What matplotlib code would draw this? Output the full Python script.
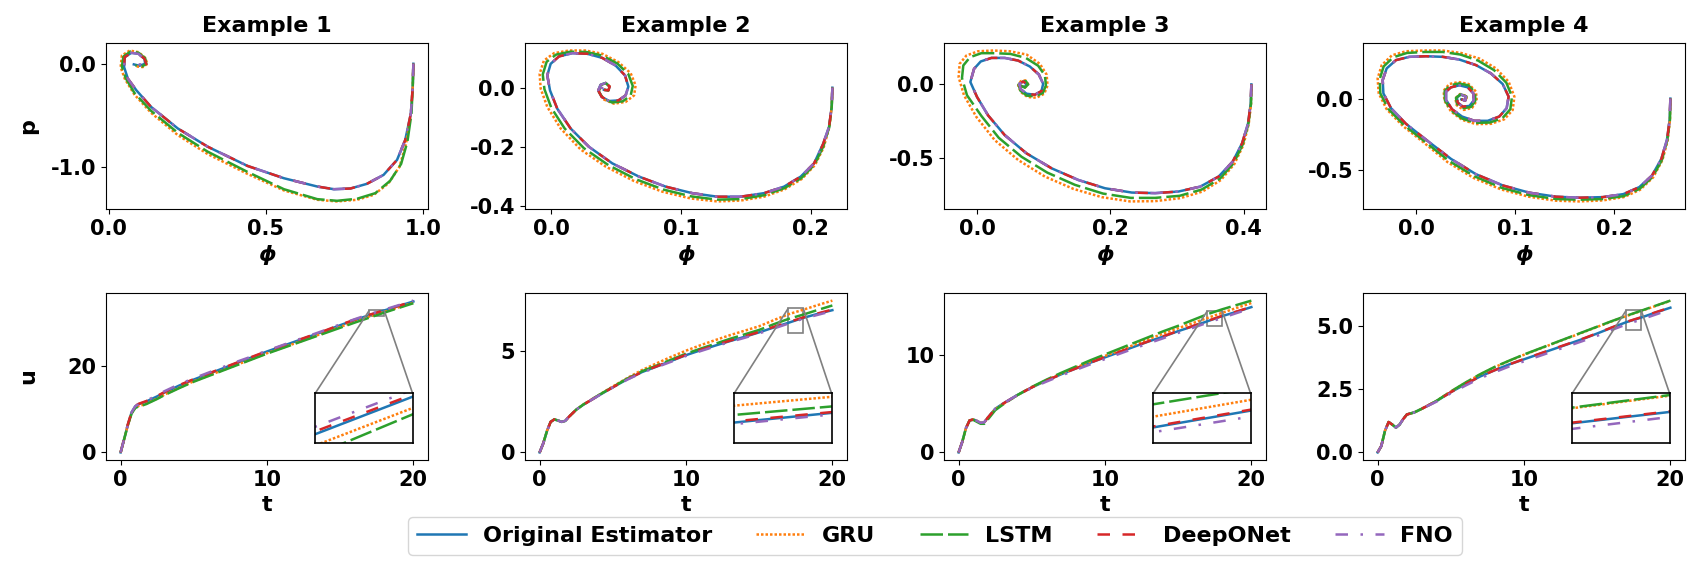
import matplotlib
matplotlib.use("Agg")
import matplotlib.pyplot as plt
from matplotlib.ticker import FormatStrFormatter
from mpl_toolkits.axes_grid1.inset_locator import mark_inset

plt.rcParams['font.family'] = ['DejaVu Sans']
plt.rcParams['font.weight'] = 'bold'
plt.rcParams['axes.labelweight'] = 'bold'
plt.rcParams['axes.titleweight'] = 'bold'
plt.rcParams['axes.unicode_minus'] = False

models = ['Original Estimator', 'GRU', 'LSTM', 'DeepONet', 'FNO']
colors = ['#1f77b4', '#ff7f0e', '#2ca02c', '#d62728', '#9467bd']
line_styles = ['-', (0, (1, 0.8)), (0, (9, 2)), (0, (5, 5)), (0, (5, 5, 1, 5))]

# ---------------- phase plane (phi, p) ----------------
# Example 1
ex1_phi_orig = [0.970, 0.968, 0.962, 0.944, 0.918, 0.875, 0.822, 0.770, 0.717, 0.664, 0.558, 0.442, 0.315, 0.220, 0.135, 0.088, 0.061, 0.049, 0.051, 0.072, 0.095, 0.114, 0.116, 0.098, 0.080]
ex1_p_orig = [0.000, -0.224, -0.481, -0.737, -0.929, -1.074, -1.160, -1.205, -1.212, -1.186, -1.106, -0.987, -0.801, -0.625, -0.417, -0.256, -0.144, -0.032, 0.064, 0.106, 0.096, 0.048, 0.000, -0.019, -0.006]
ex1_phi_gru = [0.970, 0.968, 0.962, 0.947, 0.926, 0.891, 0.844, 0.791, 0.727, 0.664, 0.558, 0.442, 0.315, 0.220, 0.135, 0.082, 0.051, 0.038, 0.042, 0.067, 0.095, 0.116, 0.123, 0.109, 0.088]
ex1_p_gru = [0.000, -0.224, -0.481, -0.769, -0.994, -1.154, -1.266, -1.314, -1.330, -1.314, -1.224, -1.064, -0.872, -0.689, -0.474, -0.298, -0.144, -0.032, 0.080, 0.128, 0.112, 0.058, 0.000, -0.032, -0.026]
ex1_phi_lstm = [0.970, 0.968, 0.964, 0.951, 0.931, 0.896, 0.849, 0.791, 0.727, 0.664, 0.558, 0.442, 0.315, 0.220, 0.135, 0.082, 0.054, 0.042, 0.047, 0.070, 0.095, 0.116, 0.120, 0.106, 0.085]
ex1_p_lstm = [0.000, -0.224, -0.481, -0.753, -0.968, -1.131, -1.250, -1.304, -1.324, -1.308, -1.212, -1.045, -0.849, -0.667, -0.455, -0.282, -0.138, -0.026, 0.071, 0.119, 0.106, 0.054, 0.000, -0.026, -0.016]
ex1_phi_don = ex1_phi_orig[:22] + [0.120, 0.116, 0.104]
ex1_p_don = ex1_p_orig[:22] + [-0.006, -0.048, -0.026]
ex1_phi_fno = ex1_phi_orig[:22] + [0.114, 0.080]
ex1_p_fno = ex1_p_orig[:22] + [-0.006, -0.006]

# Example 2
ex2_phi_orig = [0.2167, 0.2162, 0.2141, 0.2095, 0.2026, 0.1923, 0.1794, 0.1640, 0.1460, 0.1280, 0.1087, 0.0882, 0.0676, 0.0470, 0.0290, 0.0149, 0.0046, -0.0010, -0.0031, -0.0005, 0.0059, 0.0162, 0.0278, 0.0393, 0.0496, 0.0568, 0.0594, 0.0573, 0.0517, 0.0445, 0.0388, 0.0362, 0.0380, 0.0419, 0.0450, 0.0440, 0.0406]
ex2_p_orig = [0.000, -0.065, -0.133, -0.191, -0.256, -0.301, -0.335, -0.357, -0.369, -0.369, -0.357, -0.335, -0.301, -0.256, -0.200, -0.138, -0.071, -0.009, 0.042, 0.081, 0.106, 0.117, 0.115, 0.101, 0.075, 0.042, 0.004, -0.026, -0.043, -0.045, -0.031, -0.009, 0.010, 0.016, 0.004, -0.009, -0.007]
ex2_phi_gru = [0.2167, 0.2162, 0.2144, 0.2100, 0.2033, 0.1931, 0.1799, 0.1640, 0.1460, 0.1280, 0.1075, 0.0856, 0.0638, 0.0419, 0.0226, 0.0072, -0.0031, -0.0082, -0.0090, -0.0057, 0.0021, 0.0136, 0.0265, 0.0393, 0.0517, 0.0612, 0.0650, 0.0638, 0.0573, 0.0483, 0.0406, 0.0368, 0.0380, 0.0419, 0.0450, 0.0440, 0.0406]
ex2_p_gru = [0.000, -0.065, -0.133, -0.202, -0.262, -0.309, -0.344, -0.369, -0.382, -0.385, -0.375, -0.352, -0.316, -0.267, -0.209, -0.138, -0.065, -0.003, 0.047, 0.092, 0.117, 0.126, 0.126, 0.115, 0.087, 0.049, 0.008, -0.026, -0.048, -0.054, -0.040, -0.015, 0.008, 0.016, 0.004, -0.009, -0.007]
ex2_phi_lstm = [0.2167, 0.2162, 0.2143, 0.2098, 0.2030, 0.1928, 0.1797, 0.1640, 0.1460, 0.1280, 0.1080, 0.0866, 0.0653, 0.0440, 0.0252, 0.0103, 0.0000, -0.0053, -0.0066, -0.0036, 0.0036, 0.0146, 0.0270, 0.0393, 0.0509, 0.0594, 0.0628, 0.0612, 0.0551, 0.0468, 0.0399, 0.0366, 0.0380, 0.0419, 0.0450, 0.0440, 0.0406]
ex2_p_lstm = [0.000, -0.065, -0.133, -0.198, -0.260, -0.306, -0.340, -0.364, -0.377, -0.379, -0.368, -0.345, -0.310, -0.262, -0.205, -0.138, -0.068, -0.005, 0.045, 0.088, 0.112, 0.122, 0.121, 0.109, 0.082, 0.046, 0.006, -0.026, -0.046, -0.050, -0.036, -0.013, 0.009, 0.016, 0.004, -0.009, -0.007]
ex2_phi_don = list(ex2_phi_orig)
ex2_p_don = list(ex2_p_orig)
ex2_phi_fno = ex2_phi_orig[:35] + [0.0432, 0.0380, 0.0316]
ex2_p_fno = ex2_p_orig[:35] + [-0.004, 0.000, 0.000]

# Example 3
ex3_phi_orig = [0.4115, 0.4105, 0.4065, 0.3975, 0.3835, 0.3624, 0.3348, 0.3023, 0.2672, 0.2321, 0.1920, 0.1519, 0.1118, 0.0742, 0.0416, 0.0165, 0.0000, -0.0100, -0.0045, 0.0055, 0.0216, 0.0416, 0.0617, 0.0792, 0.0927, 0.0992, 0.0967, 0.0867, 0.0742, 0.0652, 0.0637, 0.0692, 0.0742, 0.0717, 0.0657]
ex3_p_orig = [0.000, -0.130, -0.265, -0.399, -0.522, -0.623, -0.691, -0.724, -0.735, -0.731, -0.702, -0.646, -0.567, -0.466, -0.343, -0.209, -0.085, 0.016, 0.105, 0.155, 0.179, 0.179, 0.161, 0.121, 0.067, 0.004, -0.045, -0.070, -0.063, -0.031, 0.004, 0.020, 0.004, -0.018, -0.009]
ex3_phi_gru = [0.4115, 0.4110, 0.4075, 0.3995, 0.3860, 0.3659, 0.3383, 0.3048, 0.2672, 0.2296, 0.1870, 0.1444, 0.1018, 0.0617, 0.0266, -0.0010, -0.0195, -0.0276, -0.0261, -0.0160, 0.0015, 0.0241, 0.0491, 0.0742, 0.0942, 0.1043, 0.1058, 0.1008, 0.0892, 0.0757, 0.0657, 0.0617, 0.0657, 0.0727, 0.0767, 0.0717, 0.0657]
ex3_p_gru = [0.000, -0.130, -0.269, -0.410, -0.538, -0.646, -0.724, -0.769, -0.789, -0.791, -0.762, -0.706, -0.623, -0.511, -0.377, -0.220, -0.074, 0.049, 0.139, 0.195, 0.224, 0.229, 0.224, 0.202, 0.139, 0.067, -0.007, -0.063, -0.090, -0.085, -0.052, -0.007, 0.022, 0.027, 0.000, -0.022, -0.009]
ex3_phi_lstm = [0.4115, 0.4110, 0.4070, 0.3985, 0.3850, 0.3644, 0.3368, 0.3038, 0.2672, 0.2306, 0.1890, 0.1469, 0.1053, 0.0667, 0.0326, 0.0065, -0.0150, -0.0226, -0.0206, -0.0105, 0.0065, 0.0276, 0.0501, 0.0732, 0.0917, 0.1018, 0.1033, 0.0987, 0.0877, 0.0747, 0.0652, 0.0622, 0.0667, 0.0732, 0.0767, 0.0717, 0.0657]
ex3_p_lstm = [0.000, -0.130, -0.267, -0.406, -0.532, -0.637, -0.711, -0.753, -0.767, -0.767, -0.738, -0.679, -0.596, -0.489, -0.361, -0.213, -0.074, 0.043, 0.128, 0.184, 0.211, 0.211, 0.206, 0.179, 0.126, 0.061, -0.007, -0.058, -0.081, -0.076, -0.043, -0.002, 0.022, 0.022, 0.000, -0.022, -0.009]
ex3_phi_don = list(ex3_phi_orig)
ex3_p_don = list(ex3_p_orig)
ex3_phi_fno = ex3_phi_orig[:33] + [0.0700, 0.0640, 0.0540]
ex3_p_fno = ex3_p_orig[:33] + [-0.006, 0.000, 0.000]

# Example 4
ex4_phi_orig = [0.2565, 0.2558, 0.2531, 0.2474, 0.2380, 0.2252, 0.2091, 0.1882, 0.1647, 0.1412, 0.1143, 0.0874, 0.0605, 0.0353, 0.0101, -0.0101, -0.0252, -0.0329, -0.0336, -0.0296, -0.0202, -0.0067, 0.0101, 0.0269, 0.0437, 0.0605, 0.0756, 0.0874, 0.0934, 0.0914, 0.0840, 0.0723, 0.0588, 0.0464, 0.0363, 0.0303, 0.0303, 0.0353, 0.0437, 0.0521, 0.0578, 0.0582, 0.0538, 0.0471, 0.0420, 0.0413, 0.0454, 0.0504, 0.0497, 0.0457]
ex4_p_orig = [0.000, -0.148, -0.287, -0.421, -0.537, -0.618, -0.667, -0.688, -0.692, -0.685, -0.657, -0.606, -0.528, -0.421, -0.287, -0.176, -0.067, 0.037, 0.130, 0.211, 0.269, 0.292, 0.296, 0.292, 0.273, 0.234, 0.176, 0.102, 0.014, -0.067, -0.125, -0.155, -0.155, -0.125, -0.074, -0.009, 0.049, 0.079, 0.093, 0.079, 0.037, -0.014, -0.051, -0.056, -0.028, 0.009, 0.028, 0.014, -0.014, -0.005]
ex4_phi_gru = [0.2565, 0.2561, 0.2538, 0.2484, 0.2390, 0.2259, 0.2094, 0.1882, 0.1647, 0.1412, 0.1136, 0.0857, 0.0578, 0.0319, 0.0084, -0.0134, -0.0296, -0.0376, -0.0387, -0.0346, -0.0242, -0.0101, 0.0084, 0.0269, 0.0454, 0.0639, 0.0807, 0.0934, 0.0992, 0.0975, 0.0891, 0.0756, 0.0605, 0.0464, 0.0353, 0.0286, 0.0279, 0.0336, 0.0430, 0.0531, 0.0605, 0.0612, 0.0565, 0.0481, 0.0410, 0.0397, 0.0444, 0.0511, 0.0504, 0.0457]
ex4_p_gru = [0.000, -0.148, -0.292, -0.431, -0.551, -0.637, -0.688, -0.711, -0.718, -0.713, -0.685, -0.634, -0.553, -0.444, -0.310, -0.190, -0.074, 0.037, 0.141, 0.234, 0.303, 0.331, 0.336, 0.336, 0.319, 0.280, 0.211, 0.118, 0.014, -0.079, -0.144, -0.176, -0.178, -0.148, -0.090, -0.014, 0.056, 0.102, 0.116, 0.102, 0.049, -0.014, -0.065, -0.079, -0.046, 0.002, 0.032, 0.019, -0.016, -0.005]
ex4_phi_lstm = [0.2565, 0.2561, 0.2534, 0.2481, 0.2387, 0.2255, 0.2094, 0.1882, 0.1647, 0.1412, 0.1139, 0.0864, 0.0588, 0.0333, 0.0091, -0.0121, -0.0279, -0.0360, -0.0366, -0.0326, -0.0229, -0.0091, 0.0091, 0.0269, 0.0447, 0.0625, 0.0787, 0.0911, 0.0968, 0.0951, 0.0871, 0.0743, 0.0598, 0.0464, 0.0356, 0.0292, 0.0289, 0.0343, 0.0434, 0.0528, 0.0595, 0.0598, 0.0555, 0.0477, 0.0413, 0.0403, 0.0447, 0.0508, 0.0501, 0.0457]
ex4_p_lstm = [0.000, -0.148, -0.289, -0.426, -0.546, -0.630, -0.681, -0.701, -0.706, -0.701, -0.674, -0.623, -0.542, -0.435, -0.301, -0.185, -0.072, 0.037, 0.137, 0.225, 0.289, 0.319, 0.326, 0.326, 0.308, 0.266, 0.199, 0.111, 0.014, -0.074, -0.137, -0.167, -0.169, -0.139, -0.083, -0.012, 0.053, 0.093, 0.106, 0.093, 0.044, -0.014, -0.058, -0.067, -0.037, 0.005, 0.030, 0.016, -0.014, -0.005]
ex4_phi_don = list(ex4_phi_orig)
ex4_p_don = list(ex4_p_orig)
ex4_phi_fno = list(ex4_phi_orig)
ex4_p_fno = list(ex4_p_orig)

# ---------------- control input u(t) ----------------
t_vals = [0, 0.25, 0.5, 0.75, 1.0, 1.25, 1.5, 1.75, 2.0, 2.5, 3, 4, 5, 6, 7, 8, 9, 10, 11, 12, 13, 14, 15, 16, 17, 18, 19, 20]

ex1_u_orig = [0, 3.2, 6.5, 9.3, 10.7, 11.2, 11.5, 11.8, 12.2, 13.0, 13.9, 15.5, 16.9, 18.2, 19.5, 20.8, 22.1, 23.4, 24.6, 25.8, 27.0, 28.2, 29.5, 30.7, 31.84, 32.9, 33.95, 35.0]
ex1_u_gru = [0, 3.2, 6.4, 9.1, 10.4, 10.8, 11.0, 11.3, 11.7, 12.5, 13.4, 15.0, 16.5, 17.8, 19.1, 20.4, 21.7, 23.0, 24.2, 25.4, 26.6, 27.9, 29.1, 30.3, 31.52, 32.58, 33.65, 34.7]
ex1_u_lstm = [0, 3.2, 6.4, 9.0, 10.3, 10.7, 10.9, 11.2, 11.6, 12.4, 13.3, 14.9, 16.4, 17.7, 19.0, 20.3, 21.6, 22.9, 24.1, 25.3, 26.5, 27.7, 28.9, 30.1, 31.25, 32.40, 33.5, 34.6]
ex1_u_don = [0, 3.3, 6.6, 9.4, 10.8, 11.3, 11.6, 11.9, 12.3, 13.1, 14.0, 15.6, 17.0, 18.3, 19.6, 20.9, 22.2, 23.5, 24.7, 25.9, 27.1, 28.3, 29.6, 30.8, 31.92, 32.96, 34.0, 35.05]
ex1_u_fno = [0, 3.2, 6.5, 9.3, 10.7, 11.2, 11.6, 11.9, 12.4, 13.3, 14.2, 15.8, 17.2, 18.5, 19.8, 21.1, 22.3, 23.6, 24.8, 26.0, 27.2, 28.4, 29.7, 30.9, 32.05, 33.1, 34.15, 35.2]

ex2_u_orig = [0, 0.45, 1.05, 1.5, 1.62, 1.57, 1.5, 1.55, 1.75, 2.1, 2.35, 2.78, 3.2, 3.6, 3.95, 4.22, 4.5, 4.78, 5.02, 5.25, 5.47, 5.68, 5.9, 6.14, 6.37, 6.61, 6.81, 6.99]
ex2_u_gru = [0, 0.45, 1.05, 1.5, 1.62, 1.57, 1.5, 1.55, 1.75, 2.1, 2.36, 2.8, 3.24, 3.66, 4.05, 4.38, 4.7, 5.0, 5.27, 5.52, 5.76, 5.98, 6.2, 6.5, 6.79, 7.01, 7.24, 7.46]
ex2_u_lstm = [0, 0.45, 1.05, 1.5, 1.62, 1.57, 1.5, 1.55, 1.75, 2.1, 2.36, 2.8, 3.22, 3.63, 3.99, 4.27, 4.56, 4.85, 5.1, 5.34, 5.58, 5.8, 6.02, 6.3, 6.56, 6.77, 7.0, 7.22]
ex2_u_don = [0, 0.45, 1.05, 1.5, 1.62, 1.57, 1.5, 1.55, 1.75, 2.1, 2.35, 2.78, 3.2, 3.6, 3.95, 4.23, 4.51, 4.8, 5.04, 5.27, 5.49, 5.7, 5.92, 6.17, 6.40, 6.63, 6.83, 7.02]
ex2_u_fno = [0, 0.45, 1.05, 1.5, 1.62, 1.57, 1.5, 1.55, 1.75, 2.1, 2.35, 2.78, 3.19, 3.58, 3.92, 4.19, 4.46, 4.74, 4.98, 5.21, 5.43, 5.63, 5.85, 6.09, 6.33, 6.57, 6.76, 6.95]

ex3_u_orig = [0, 1.1, 2.5, 3.3, 3.4, 3.25, 3.05, 3.1, 3.6, 4.5, 5.0, 5.9, 6.7, 7.4, 8.05, 8.65, 9.25, 9.8, 10.35, 10.9, 11.45, 11.95, 12.5, 13.0, 13.52, 14.05, 14.5, 14.98]
ex3_u_gru = [0, 1.1, 2.5, 3.3, 3.4, 3.25, 3.05, 3.1, 3.6, 4.45, 4.95, 5.88, 6.72, 7.45, 8.12, 8.75, 9.35, 9.95, 10.5, 11.1, 11.7, 12.25, 12.8, 13.33, 13.86, 14.39, 14.9, 15.4]
ex3_u_lstm = [0, 1.1, 2.5, 3.3, 3.35, 3.15, 2.95, 2.95, 3.4, 4.35, 4.9, 5.9, 6.75, 7.5, 8.2, 8.85, 9.5, 10.1, 10.7, 11.3, 11.9, 12.5, 13.05, 13.65, 14.25, 14.75, 15.2, 15.65]
ex3_u_don = [0, 1.1, 2.5, 3.3, 3.4, 3.25, 3.05, 3.1, 3.6, 4.5, 5.0, 5.9, 6.7, 7.4, 8.05, 8.65, 9.25, 9.82, 10.37, 10.92, 11.47, 11.98, 12.53, 13.03, 13.55, 14.08, 14.53, 15.0]
ex3_u_fno = [0, 1.1, 2.5, 3.3, 3.4, 3.25, 3.05, 3.1, 3.6, 4.5, 5.0, 5.9, 6.65, 7.3, 7.92, 8.5, 9.08, 9.62, 10.17, 10.72, 11.26, 11.78, 12.32, 12.84, 13.37, 13.86, 14.37, 14.85]

ex4_u_orig = [0, 0.25, 0.85, 1.2, 1.1, 0.98, 1.1, 1.32, 1.5, 1.58, 1.72, 2.02, 2.38, 2.7, 3.0, 3.25, 3.48, 3.68, 3.88, 4.08, 4.28, 4.48, 4.7, 4.93, 5.15, 5.33, 5.53, 5.72]
ex4_u_gru = [0, 0.25, 0.85, 1.2, 1.1, 0.98, 1.1, 1.32, 1.5, 1.58, 1.72, 2.03, 2.4, 2.75, 3.08, 3.37, 3.62, 3.86, 4.08, 4.3, 4.52, 4.74, 4.96, 5.18, 5.39, 5.59, 5.79, 5.99]
ex4_u_lstm = [0, 0.25, 0.85, 1.2, 1.1, 0.98, 1.1, 1.32, 1.5, 1.58, 1.72, 2.03, 2.41, 2.76, 3.09, 3.38, 3.63, 3.87, 4.09, 4.31, 4.53, 4.75, 4.97, 5.19, 5.40, 5.60, 5.80, 6.00]
ex4_u_don = [0, 0.25, 0.85, 1.2, 1.1, 0.98, 1.1, 1.32, 1.5, 1.58, 1.72, 2.02, 2.38, 2.7, 3.0, 3.25, 3.48, 3.69, 3.89, 4.09, 4.29, 4.49, 4.71, 4.94, 5.16, 5.34, 5.54, 5.73]
ex4_u_fno = [0, 0.25, 0.85, 1.2, 1.1, 0.98, 1.1, 1.32, 1.5, 1.58, 1.72, 2.0, 2.34, 2.64, 2.93, 3.17, 3.4, 3.6, 3.8, 4.0, 4.2, 4.4, 4.61, 4.84, 5.06, 5.25, 5.45, 5.65]

# ticks and zoom windows
phase_xticks = [[0.0, 0.5, 1.0], [0.0, 0.1, 0.2], [0.0, 0.2, 0.4], [0.0, 0.1, 0.2]]
phase_yticks = [[-1.0, 0.0], [-0.4, -0.2, 0.0], [-0.5, 0.0], [-0.5, 0.0]]
u_yticks = [[0, 20], [0, 5], [0, 10], [0.0, 2.5, 5.0]]
u_yfmt = ['%d', '%d', '%d', '%.1f']
zoom_t = [(17, 18), (17, 18), (17, 18), (17, 18)]
zoom_u = [(31.6, 33.0), (5.87, 7.1), (13.04, 14.6), (4.84, 5.63)]

phase_curves = [
    [(ex1_phi_orig, ex1_p_orig), (ex1_phi_gru, ex1_p_gru), (ex1_phi_lstm, ex1_p_lstm), (ex1_phi_don, ex1_p_don), (ex1_phi_fno, ex1_p_fno)],
    [(ex2_phi_orig, ex2_p_orig), (ex2_phi_gru, ex2_p_gru), (ex2_phi_lstm, ex2_p_lstm), (ex2_phi_don, ex2_p_don), (ex2_phi_fno, ex2_p_fno)],
    [(ex3_phi_orig, ex3_p_orig), (ex3_phi_gru, ex3_p_gru), (ex3_phi_lstm, ex3_p_lstm), (ex3_phi_don, ex3_p_don), (ex3_phi_fno, ex3_p_fno)],
    [(ex4_phi_orig, ex4_p_orig), (ex4_phi_gru, ex4_p_gru), (ex4_phi_lstm, ex4_p_lstm), (ex4_phi_don, ex4_p_don), (ex4_phi_fno, ex4_p_fno)],
]
u_curves = [
    [ex1_u_orig, ex1_u_gru, ex1_u_lstm, ex1_u_don, ex1_u_fno],
    [ex2_u_orig, ex2_u_gru, ex2_u_lstm, ex2_u_don, ex2_u_fno],
    [ex3_u_orig, ex3_u_gru, ex3_u_lstm, ex3_u_don, ex3_u_fno],
    [ex4_u_orig, ex4_u_gru, ex4_u_lstm, ex4_u_don, ex4_u_fno],
]

LW = 1.8
W, H = 1700, 580
lefts = [106, 525, 944, 1363]

fig = plt.figure(figsize=(17, 5.8), dpi=100)
handles = []
for i in range(4):
    x0 = lefts[i] / W
    ax = fig.add_axes([x0, 0.6397, 322 / W, 0.2862])
    for k in range(5):
        phi, p = phase_curves[i][k]
        ln, = ax.plot(phi, p, color=colors[k], linestyle=line_styles[k], lw=LW, label=models[k])
        if i == 0:
            handles.append(ln)
    ax.set_title(f'Example {i + 1}', fontsize=16, pad=8)
    ax.set_xticks(phase_xticks[i])
    ax.set_yticks(phase_yticks[i])
    ax.xaxis.set_major_formatter(FormatStrFormatter('%.1f'))
    ax.yaxis.set_major_formatter(FormatStrFormatter('%.1f'))
    ax.tick_params(labelsize=15)
    ax.set_xlabel('ϕ', fontsize=16, fontstyle='italic')
    if i == 0:
        ax.set_ylabel('p', fontsize=16)
        ax.yaxis.set_label_coords(-0.21, 0.5)

    # bottom row: control signal with zoomed inset
    axb = fig.add_axes([x0, 0.2069, 322 / W, 0.2879])
    axins = axb.inset_axes([0.65, 0.104, 0.302, 0.296])
    for k in range(5):
        axb.plot(t_vals, u_curves[i][k], color=colors[k], linestyle=line_styles[k], lw=LW)
        axins.plot(t_vals, u_curves[i][k], color=colors[k], linestyle=line_styles[k], lw=LW)
    axins.set_xlim(*zoom_t[i])
    axins.set_ylim(*zoom_u[i])
    axins.set_xticks([])
    axins.set_yticks([])
    for sp in axins.spines.values():
        sp.set_linewidth(1.2)
        sp.set_color('black')
    mark_inset(axb, axins, loc1=2, loc2=1, fc='none', ec='0.5', lw=1.2)

    axb.set_xticks([0, 10, 20])
    axb.set_yticks(u_yticks[i])
    axb.yaxis.set_major_formatter(FormatStrFormatter(u_yfmt[i]))
    axb.tick_params(labelsize=15)
    axb.set_xlabel('t', fontsize=16)
    if i == 0:
        axb.set_ylabel('u', fontsize=16)
        axb.yaxis.set_label_coords(-0.21, 0.5)

fig.legend(handles, models, loc='lower center', bbox_to_anchor=(935 / W, 14 / H), ncol=5,
           prop={'weight': 'bold', 'size': 16}, handlelength=2.2, handletextpad=0.75,
           columnspacing=2.0, frameon=True, fancybox=True)

fig.savefig('out.png', dpi=100)
plt.close(fig)
